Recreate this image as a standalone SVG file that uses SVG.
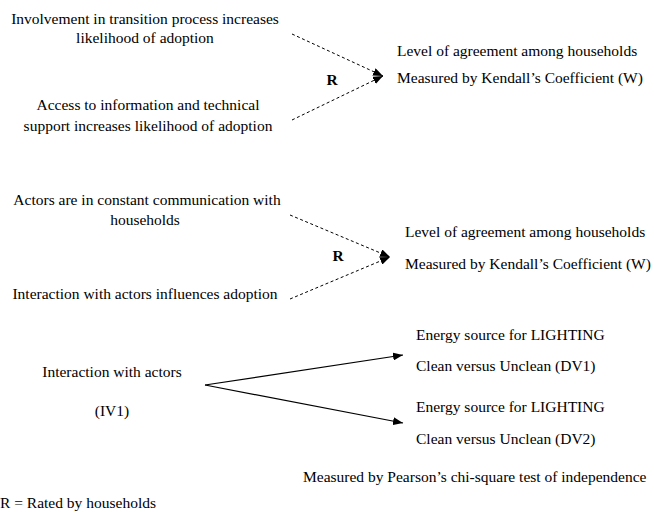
<svg xmlns="http://www.w3.org/2000/svg" width="654" height="513" viewBox="0 0 654 513">
<defs>
<marker id="ah" markerWidth="10" markerHeight="8" refX="10" refY="4" orient="auto" markerUnits="userSpaceOnUse">
<path d="M0,0 L10,4 L0,8 Z" fill="#000"/>
</marker>
<style>
text{font-family:'Liberation Serif','Times New Roman',Times,serif;font-size:15.5px;fill:#000}
.c{text-anchor:middle}
.b{font-weight:bold}
.d{stroke:#000;stroke-width:1;stroke-dasharray:3,2.5;fill:none}
.s{stroke:#000;stroke-width:1.2;fill:none}
</style>
</defs>
<rect width="654" height="513" fill="#fff"/>
<g id="n1"><text class="c" x="145" y="24">Involvement in transition process increases</text><text class="c" x="145" y="43">likelihood of adoption</text></g>
<g id="n2"><text class="c" x="148" y="110">Access to information and technical</text><text class="c" x="148" y="131">support increases likelihood of adoption</text></g>
<g id="n3"><text x="397" y="56">Level of agreement among households</text><text x="397" y="83">Measured by Kendall’s Coefficient (W)</text></g>
<g id="r1"><text class="b c" x="332" y="85">R</text></g>
<g id="n4"><text class="c" x="147" y="205">Actors are in constant communication with</text><text class="c" x="145" y="225">households</text></g>
<g id="n5"><text class="c" x="145" y="299">Interaction with actors influences adoption</text></g>
<g id="n6"><text x="405" y="237">Level of agreement among households</text><text x="405" y="269">Measured by Kendall’s Coefficient (W)</text></g>
<g id="r2"><text class="b c" x="338" y="261">R</text></g>
<g id="n7"><text class="c" x="112" y="377">Interaction with actors</text><text class="c" x="112" y="416">(IV1)</text></g>
<g id="n8"><text x="416" y="340">Energy source for LIGHTING</text><text x="416" y="371">Clean versus Unclean (DV1)</text></g>
<g id="n9"><text x="416" y="412">Energy source for LIGHTING</text><text x="416" y="444">Clean versus Unclean (DV2)</text></g>
<g id="n10"><text x="303" y="482">Measured by Pearson’s chi-square test of independence</text></g>
<g id="n11"><text x="0" y="508">R = Rated by households</text></g>
<g id="connectors">
<line class="d" x1="292" y1="34" x2="383" y2="76" marker-end="url(#ah)"/>
<line class="d" x1="292" y1="120" x2="383" y2="76" marker-end="url(#ah)"/>
<line class="d" x1="290" y1="215" x2="390" y2="257" marker-end="url(#ah)"/>
<line class="d" x1="290" y1="299" x2="390" y2="257" marker-end="url(#ah)"/>
<line class="s" x1="205" y1="385" x2="403" y2="355" marker-end="url(#ah)"/>
<line class="s" x1="205" y1="385" x2="403" y2="423" marker-end="url(#ah)"/>
</g>
</svg>
